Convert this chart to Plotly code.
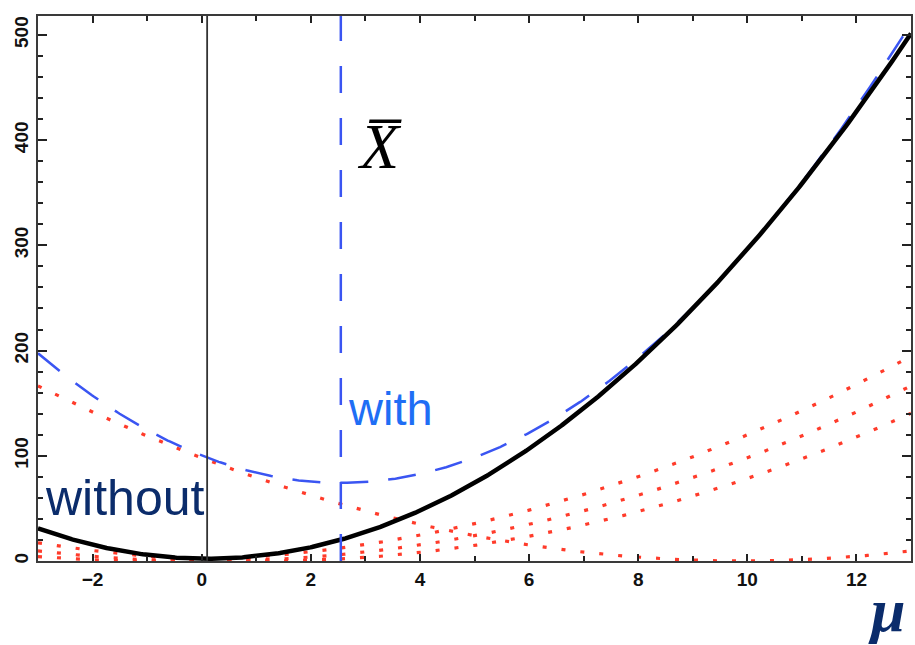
import numpy as np
import plotly.graph_objects as go

# Observations: three clustered values plus one outlier
obs_without = [-0.95, 0.1, 1.15]
outlier = [9.9]
obs_with = obs_without + outlier

# Axis settings
x_range = [-3, 13]
y_range = [0, 518]
x_tickvals = [-2, 0, 2, 4, 6, 8, 10, 12]
y_tickvals = [0, 100, 200, 300, 400, 500]

mu = np.linspace(x_range[0], x_range[1], 600)

# squared-error loss of each observation as a function of mu
def sq_loss(values):
    return [(mu - v) ** 2 for v in values]

red_terms = sq_loss(obs_with)
loss_without = np.sum(sq_loss(obs_without), axis=0)
loss_with = np.sum(red_terms, axis=0)
mean_without = float(np.mean(obs_without))
mean_with = float(np.mean(obs_with))


def bold_labels(vals):
    return ["<b>" + str(v).replace("-", "\u2212") + "</b>" for v in vals]


fig = go.Figure()

for term in red_terms:
    fig.add_trace(go.Scatter(x=mu, y=term, mode="lines",
                             line=dict(color="#ff3b2a", width=3.2, dash="4px,15px"),
                             hoverinfo="skip"))

fig.add_trace(go.Scatter(x=mu, y=loss_with, mode="lines",
                         line=dict(color="#3a55f2", width=2.5, dash="28px,20px")))
fig.add_trace(go.Scatter(x=mu, y=loss_without, mode="lines",
                         line=dict(color="#000000", width=4.5)))

# vertical markers at the two sample means
fig.add_trace(go.Scatter(x=[mean_without, mean_without], y=y_range, mode="lines",
                         line=dict(color="#333333", width=1.8)))
fig.add_trace(go.Scatter(x=[mean_with, mean_with], y=y_range, mode="lines",
                         line=dict(color="#3a55f2", width=2.5, dash="27px,25px")))

tick_font = dict(family="Liberation Sans", size=19, color="#111111")

fig.update_layout(
    width=915, height=645, showlegend=False,
    margin=dict(l=38, r=2, t=16, b=84),
    paper_bgcolor="white", plot_bgcolor="white",
    xaxis=dict(
        range=x_range, tickmode="array", tickvals=x_tickvals,
        ticktext=bold_labels(x_tickvals), tickfont=tick_font,
        showline=True, linecolor="#3a3a3a", linewidth=2, mirror="allticks",
        ticks="inside", ticklen=7, tickcolor="#222222", tickwidth=1.6,
        showgrid=False, zeroline=False,
        minor=dict(dtick=1, tick0=0, ticks="inside", ticklen=5,
                   tickcolor="#222222", tickwidth=1.6, showgrid=False),
    ),
    yaxis=dict(
        range=y_range, tickmode="array", tickvals=y_tickvals,
        ticktext=bold_labels(y_tickvals), tickfont=tick_font, tickangle=-90,
        showline=True, linecolor="#3a3a3a", linewidth=2, mirror="allticks",
        ticks="inside", ticklen=9, tickcolor="#222222", tickwidth=1.6,
        showgrid=False, zeroline=False,
        minor=dict(dtick=20, tick0=0, ticks="inside", ticklen=5,
                   tickcolor="#222222", tickwidth=1.6, showgrid=False),
    ),
)

fig.add_annotation(x=-3, y=0, xref="x", yref="y", text="without", showarrow=False,
                   xanchor="left", yanchor="bottom", xshift=5, yshift=33,
                   font=dict(family="Liberation Sans", size=50, color="#0b2c6b"))
fig.add_annotation(x=mean_with, y=145, xref="x", yref="y", text="with", showarrow=False,
                   xanchor="left", yanchor="middle", xshift=5,
                   font=dict(family="Liberation Sans", size=47, color="#1f6ef5"))
fig.add_annotation(x=mean_with, y=394, xref="x", yref="y", text="<i>X\u0305</i>",
                   showarrow=False, xanchor="left", yanchor="middle", xshift=14,
                   font=dict(family="Liberation Serif", size=64, color="#000000"))
fig.add_annotation(x=0.95, y=0, xref="paper", yref="paper", text="<b><i>μ</i></b>",
                   showarrow=False, xanchor="left", yanchor="bottom", yshift=-84,
                   borderpad=0,
                   font=dict(family="Liberation Serif", size=62, color="#0b2c6b"))

fig.write_html("out.html")
